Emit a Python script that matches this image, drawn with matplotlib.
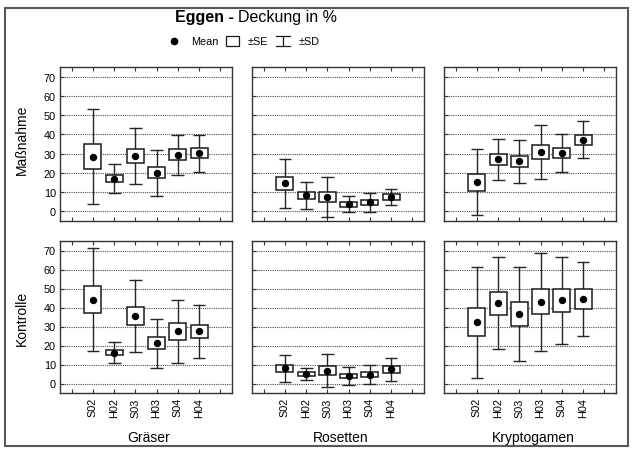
import matplotlib
matplotlib.use("Agg")
import matplotlib.pyplot as plt
from matplotlib.patches import Rectangle
from matplotlib.lines import Line2D

plt.rcParams['font.family'] = ['Liberation Sans', 'DejaVu Sans']

plots = ['S02', 'H02', 'S03', 'H03', 'S04', 'H04']
groups = ['Gräser', 'Rosetten', 'Kryptogamen']
treatments = ['Maßnahme', 'Kontrolle']

# Maßnahme: mean, SE, SD per plot
mean_gr_m = [28.5, 17.0, 28.8, 20.1, 29.4, 30.2]
se_gr_m = [6.25, 1.9, 3.65, 2.95, 2.8, 2.55]
sd_gr_m = [24.5, 7.7, 14.5, 11.9, 10.5, 9.65]

mean_ro_m = [14.5, 8.3, 7.4, 3.6, 4.8, 7.4]
se_ro_m = [3.45, 1.95, 2.65, 1.15, 1.3, 1.5]
sd_ro_m = [12.65, 7.0, 10.2, 4.15, 4.9, 4.3]

mean_kr_m = [15.1, 27.0, 26.0, 31.0, 30.3, 37.3]
se_kr_m = [4.55, 2.9, 2.85, 3.6, 2.55, 2.6]
sd_kr_m = [17.1, 10.8, 11.25, 14.05, 9.65, 9.65]

# Kontrolle
mean_gr_k = [44.2, 16.3, 35.5, 21.1, 27.4, 27.4]
se_gr_k = [6.9, 1.5, 4.95, 3.15, 4.3, 3.6]
sd_gr_k = [26.9, 5.7, 18.85, 12.7, 16.7, 14.0]

mean_ro_k = [7.9, 5.1, 6.8, 3.9, 4.6, 7.4]
se_ro_k = [1.9, 0.9, 2.35, 1.15, 1.4, 1.75]
sd_ro_k = [7.35, 3.25, 8.85, 4.55, 5.1, 6.25]

mean_kr_k = [32.3, 42.2, 36.7, 43.0, 43.7, 44.5]
se_kr_k = [7.55, 6.2, 6.4, 6.65, 5.9, 5.1]
sd_kr_k = [29.15, 24.2, 24.6, 25.8, 22.85, 19.7]

panels = [
    [(mean_gr_m, se_gr_m, sd_gr_m), (mean_ro_m, se_ro_m, sd_ro_m), (mean_kr_m, se_kr_m, sd_kr_m)],
    [(mean_gr_k, se_gr_k, sd_gr_k), (mean_ro_k, se_ro_k, sd_ro_k), (mean_kr_k, se_kr_k, sd_kr_k)],
]

W, H = 632, 452


def fx(x):
    return x / W


def fy(y):
    return 1 - y / H


fig = plt.figure(figsize=(W / 100, H / 100), dpi=100)

col_left = [60, 252, 444]
col_w = 172
row_top = [68, 242]
row_h = [154, 152]

for r in range(2):
    for c in range(3):
        ax = fig.add_axes([fx(col_left[c]), fy(row_top[r] + row_h[r]), col_w / W, row_h[r] / H])
        means, ses, sds = panels[r][c]
        for i in range(len(plots)):
            x = i + 1
            m, se, sd = means[i], ses[i], sds[i]
            ax.plot([x, x], [m - sd, m + sd], color='0.15', lw=1.0, zorder=2)
            ax.hlines([m - sd, m + sd], x - 0.3, x + 0.3, color='0.15', lw=1.0, zorder=2)
            ax.add_patch(Rectangle((x - 0.4, m - se), 0.8, 2 * se, fc='white', ec='0.1', lw=1.1, zorder=3))
            ax.plot(x, m, 'o', ms=4.3, color='black', zorder=4)

        ax.set_xlim(-0.55, 7.55)
        ax.set_ylim(-5, 75)
        ax.set_xticks(range(8))
        ax.set_yticks(range(0, 80, 10))
        ax.yaxis.grid(True, linestyle=(0, (1, 1)), color='0.3', lw=0.8)
        ax.set_axisbelow(True)
        ax.tick_params(direction='in', top=True, bottom=True, left=True, right=False,
                       length=3, width=0.8, color='0.2', labelsize=7.8, pad=3)
        for s in ax.spines.values():
            s.set_color('0.2')
            s.set_linewidth(1.0)
        if r == 1:
            ax.set_xticklabels([''] + plots + [''], rotation=90)
        else:
            ax.set_xticklabels([])
        if c != 0:
            ax.set_yticklabels([])

# row and group labels
fig.text(fx(22), fy(140), treatments[0], rotation=90, ha='center', va='center', fontsize=10)
fig.text(fx(22), fy(318), treatments[1], rotation=90, ha='center', va='center', fontsize=10)
for c in range(3):
    fig.text(fx(col_left[c] + col_w / 2 + 3), fy(438), groups[c], ha='center', va='center', fontsize=10)

# title
fig.text(fx(234), fy(21.7), 'Eggen -', ha='right', va='baseline', fontsize=11.5, fontweight='bold')
fig.text(fx(238), fy(21.7), 'Deckung in %', ha='left', va='baseline', fontsize=11.5)

# legend
ly = 42
fig.add_artist(Line2D([fx(174)], [fy(ly)], marker='o', ms=4.5, color='black'))
fig.text(fx(191), fy(ly), 'Mean', ha='left', va='center', fontsize=7.8)
fig.add_artist(Rectangle((fx(226), fy(ly + 5)), 13 / W, 10 / H, transform=fig.transFigure,
                         fill=False, ec='0.1', lw=0.9))
fig.text(fx(248), fy(ly), '±SE', ha='left', va='center', fontsize=7.8)
fig.add_artist(Line2D([fx(276), fx(290)], [fy(ly - 5), fy(ly - 5)], color='0.1', lw=0.9))
fig.add_artist(Line2D([fx(276), fx(290)], [fy(ly + 5), fy(ly + 5)], color='0.1', lw=0.9))
fig.add_artist(Line2D([fx(283), fx(283)], [fy(ly - 5), fy(ly + 5)], color='0.1', lw=0.9))
fig.text(fx(299), fy(ly), '±SD', ha='left', va='center', fontsize=7.8)

# outer frame
fig.add_artist(Rectangle((fx(5), fy(447)), 623 / W, 438 / H, transform=fig.transFigure,
                         fill=False, ec='0.35', lw=1.5))

fig.savefig('out.png', dpi=100)
